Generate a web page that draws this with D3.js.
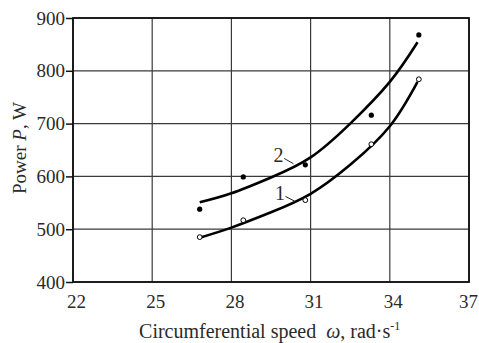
<!DOCTYPE html>
<html>
<head>
<meta charset="utf-8">
<script src="https://cdn.jsdelivr.net/npm/d3@7"></script>
<style>
  html, body { margin: 0; padding: 0; background: #fff; }
  svg { display: block; font-family: "Liberation Serif", "DejaVu Serif", serif; }
</style>
</head>
<body>
<div id="chart"></div>
<script>
// measured points
const speed1 = [26.8, 28.45, 30.8, 33.3, 35.1]
const power1 = [485, 517, 555, 661, 784]
const speed2 = [26.8, 28.45, 30.8, 33.3, 35.1]
const power2 = [538, 599, 622, 716, 868]

// fitted curves
const fitSpeed = [26.8, 28, 29.5, 31, 32.5, 34, 35.05]
const fit1 = [484, 503, 532, 567, 622, 695, 779]
const fit2 = [551, 568, 598, 636, 700, 779, 854]

const xTicks = [22, 25, 28, 31, 34, 37]
const yTicks = [400, 500, 600, 700, 800, 900]

const width = 479, height = 343
const margin = { top: 18, right: 10, bottom: 61, left: 73 }
const tickFont = "19px"

const svg = d3.select("#chart").append("svg")
    .attr("width", width)
    .attr("height", height)

const x = d3.scaleLinear().domain([22, 37]).range([margin.left, width - margin.right])
const y = d3.scaleLinear().domain([400, 900]).range([height - margin.bottom, margin.top])

// grid
svg.append("g")
    .selectAll("line")
    .data(xTicks)
    .enter().append("line")
    .attr("x1", d => x(d)).attr("x2", d => x(d))
    .attr("y1", y(900)).attr("y2", y(400))
    .attr("stroke", "#3a3a3a").attr("stroke-width", 1.2)

svg.append("g")
    .selectAll("line")
    .data(yTicks)
    .enter().append("line")
    .attr("x1", x(22)).attr("x2", x(37))
    .attr("y1", d => y(d)).attr("y2", d => y(d))
    .attr("stroke", "#3a3a3a").attr("stroke-width", 1.2)

// frame
svg.append("rect")
    .attr("x", x(22)).attr("y", y(900))
    .attr("width", x(37) - x(22)).attr("height", y(400) - y(900))
    .attr("fill", "none").attr("stroke", "#111").attr("stroke-width", 1.8)

// axes
const yAxis = svg.append("g")
    .attr("transform", "translate(" + x(22) + ",0)")
    .call(d3.axisLeft(y).tickValues(yTicks).tickSize(7).tickPadding(1))
yAxis.select(".domain").remove()
yAxis.selectAll("line").attr("stroke", "#111").attr("stroke-width", 1.5)
yAxis.selectAll("text")
    .style("font-size", tickFont)
    .style("font-family", "Liberation Serif")
    .attr("fill", "#2a2a2a")

const xAxis = svg.append("g")
    .attr("transform", "translate(0," + y(400) + ")")
    .call(d3.axisBottom(x).tickValues(xTicks).tickSize(0).tickPadding(13))
xAxis.select(".domain").remove()
xAxis.selectAll("text")
    .style("font-size", tickFont)
    .style("font-family", "Liberation Serif")
    .attr("fill", "#2a2a2a")
    .attr("dx", d => d === 37 ? -1 : 3)

// axis titles
const xt = svg.append("text")
    .attr("x", x(29.45))
    .attr("y", 338)
    .attr("text-anchor", "middle")
    .style("font-size", "20px")
    .attr("fill", "#2a2a2a")
xt.append("tspan").text("Circumferential speed\u00a0 ")
xt.append("tspan").style("font-style", "italic").text("ω")
xt.append("tspan").text(", rad·s")
xt.append("tspan").attr("dy", -8).style("font-size", "12px").text("-1")

const yt = svg.append("text")
    .attr("transform", "translate(26,148)rotate(-90)")
    .attr("text-anchor", "middle")
    .style("font-size", "19px")
    .attr("fill", "#2a2a2a")
yt.append("tspan").text("Power ")
yt.append("tspan").style("font-style", "italic").text("P")
yt.append("tspan").text(", W")

// curves
const line = d3.line()
    .x(d => x(d[0]))
    .y(d => y(d[1]))
    .curve(d3.curveNatural)

;[fit1, fit2].forEach(fit => {
    svg.append("path")
        .datum(fitSpeed.map((s, i) => [s, fit[i]]))
        .attr("d", line)
        .attr("fill", "none")
        .attr("stroke", "#000")
        .attr("stroke-width", 2.6)
})

// points
svg.append("g")
    .selectAll("circle")
    .data(speed2.map((s, i) => [s, power2[i]]))
    .enter().append("circle")
    .attr("cx", d => x(d[0])).attr("cy", d => y(d[1]))
    .attr("r", 2.6)
    .attr("fill", "#000")

svg.append("g")
    .selectAll("circle")
    .data(speed1.map((s, i) => [s, power1[i]]))
    .enter().append("circle")
    .attr("cx", d => x(d[0])).attr("cy", d => y(d[1]))
    .attr("r", 2.4)
    .attr("fill", "#fff")
    .attr("stroke", "#000")
    .attr("stroke-width", 1)

// curve labels with leaders
const labels = [
    { text: "2", at: [29.78, 641], from: [30.0, 634], to: [30.35, 624] },
    { text: "1", at: [29.84, 569], from: [30.05, 562], to: [30.4, 553] }
]
labels.forEach(l => {
    svg.append("text")
        .attr("x", x(l.at[0])).attr("y", y(l.at[1]))
        .attr("dy", "0.35em")
        .attr("text-anchor", "middle")
        .style("font-size", "20px")
        .attr("fill", "#2a2a2a")
        .text(l.text)
    svg.append("line")
        .attr("x1", x(l.from[0])).attr("y1", y(l.from[1]))
        .attr("x2", x(l.to[0])).attr("y2", y(l.to[1]))
        .attr("stroke", "#222").attr("stroke-width", 1)
})
</script>
</body>
</html>
